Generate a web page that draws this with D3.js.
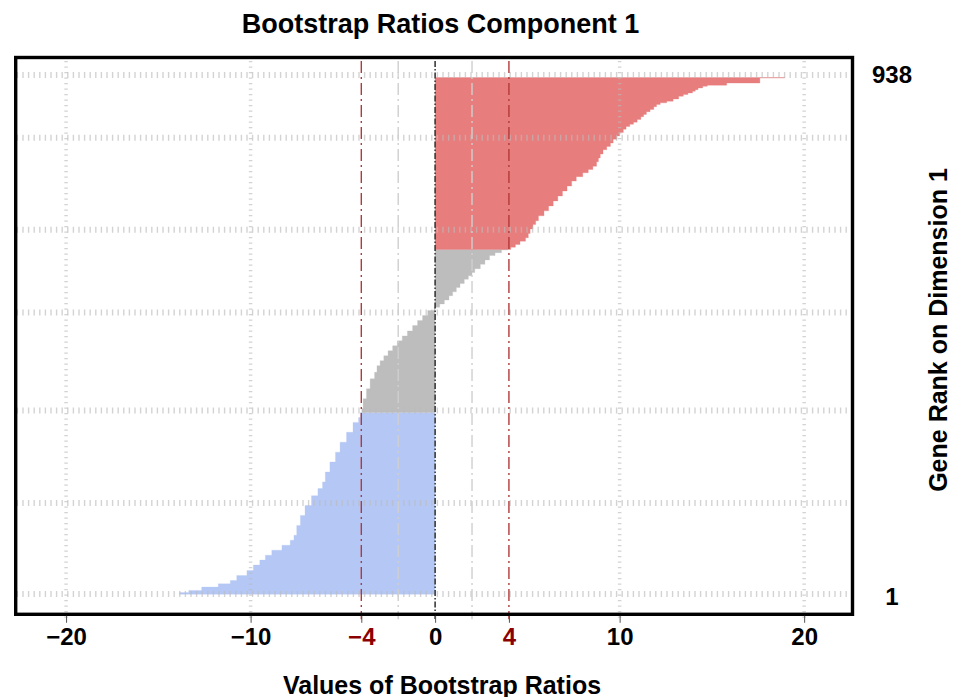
<!DOCTYPE html>
<html>
<head>
<meta charset="utf-8">
<script src="https://cdnjs.cloudflare.com/ajax/libs/d3/7.8.5/d3.min.js"></script>
<style>
body { margin: 0; background: #fff; }
text { font-family: "Liberation Sans", Arial, Helvetica, sans-serif; font-weight: bold; }
</style>
</head>
<body>
<div id="chart"></div>
<script>

// gene rank where each reading starts, and the bootstrap ratio read there
var geneRank = [1, 4, 8, 14, 20, 26, 35, 44, 54, 63, 72, 81, 90, 99, 108, 126, 144, 162, 180, 193,
    205, 223, 241, 259, 277, 295, 313, 322, 331, 338, 356, 374, 392, 404, 416, 425, 434, 443, 452, 461,
    470, 479, 489, 498, 507, 516, 522, 528, 535, 543, 550, 558, 565, 573, 579, 585, 592, 600, 608, 616,
    621, 626, 627, 631, 636, 642, 648, 656, 664, 672, 679, 688, 697, 706, 715, 724, 733, 742, 751, 759,
    766, 772, 778, 786, 793, 800, 808, 814, 820, 827, 833, 839, 845, 850, 854, 858, 863, 868, 872, 877,
    881, 886, 890, 893, 896, 900, 905, 908, 911, 914, 917, 920, 923, 925, 929, 938];
var bootRatio = [-13.85, -13.35, -12.65, -11.75, -11.1, -10.75, -10.2, -9.85, -9.5, -9.2, -8.85, -8.3, -7.85, -7.65, -7.5, -7.3, -7.05, -6.7, -6.35, -6.1,
    -5.95, -5.7, -5.4, -5.15, -4.8, -4.45, -4.15, -4.05, -3.97, -3.9, -3.72, -3.52, -3.28, -3.15, -2.98, -2.78, -2.55, -2.3, -2.05, -1.78,
    -1.5, -1.22, -0.95, -0.68, -0.4, -0.05, 0.25, 0.5, 0.75, 0.95, 1.15, 1.35, 1.58, 1.8, 2.0, 2.15, 2.45, 2.7, 2.95, 3.25,
    3.6, 3.95, 4.1, 4.35, 4.6, 4.9, 5.05, 5.15, 5.3, 5.45, 5.6, 5.9, 6.15, 6.4, 6.65, 6.9, 7.15, 7.4, 7.65, 8.0,
    8.3, 8.55, 8.75, 8.85, 8.95, 9.1, 9.3, 9.5, 9.65, 9.85, 10.0, 10.2, 10.35, 10.55, 10.75, 10.95, 11.15, 11.3, 11.45, 11.65,
    11.85, 12.0, 12.2, 12.55, 12.9, 13.2, 13.45, 13.7, 13.95, 14.1, 14.25, 14.5, 14.75, 15.8, 17.6, 18.95];
var nGenes = 938;

var xTicks = [-20, -10, -4, 0, 4, 10, 20];
var xGrid = [-20, -10, 10, 20];
var rankTicks = [1, 938];
var rankGrid = [1, 166, 334, 512, 662, 829, 943];
var cutoffs = [-4, 4];
var softCutoffs = [-2, 2];

var title = "Bootstrap Ratios Component 1";
var xTitle = "Values of Bootstrap Ratios";
var yTitle = "Gene Rank on Dimension 1";

var W = 961, H = 697;
var box = {left: 15.7, top: 57.5, right: 852.5, bottom: 614.3};

var svg = d3.select("#chart").append("svg")
    .attr("width", W)
    .attr("height", H);

var x = d3.scaleLinear()
    .domain([-22.73, 22.62])
    .range([box.left, box.right]);

var y = d3.scaleLinear()
    .domain([1, nGenes])
    .range([594, 77.8]);

function barColor(v) {
    if (v > 4) return "#e87d7d";
    if (v < -4) return "#b4c7f5";
    return "#bdbdbd";
}

// each reading is a bar covering ranks up to the next reading;
// bars of one colour are joined into one stepped area so no seams show
var groups = [];
geneRank.forEach(function(r, i) {
    var hi = (i < geneRank.length - 1) ? geneRank[i + 1] - 1 : nGenes;
    var c = barColor(bootRatio[i]);
    var g = groups[groups.length - 1];
    if (!g || g.color !== c) { g = {color: c, pts: []}; groups.push(g); }
    g.pts.push({r: r - 0.5, v: bootRatio[i]});
    g.pts.push({r: hi + 0.5, v: bootRatio[i]});
});

var area = d3.area()
    .y(function(d) { return y(d.r); })
    .x0(x(0))
    .x1(function(d) { return x(d.v); });

svg.append("g").selectAll("path")
    .data(groups)
    .enter().append("path")
    .attr("d", function(d) { return area(d.pts); })
    .style("fill", function(d) { return d.color; })
    .style("stroke", function(d) { return d.color; })
    .style("stroke-width", 0.3);

// dotted grid
svg.append("g").selectAll("line")
    .data(rankGrid)
    .enter().append("line")
    .attr("x1", box.left + 1).attr("x2", box.right - 2)
    .attr("y1", function(d) { return y(d); })
    .attr("y2", function(d) { return y(d); })
    .style("stroke", "#bbb")
    .style("stroke-opacity", 0.65)
    .style("stroke-width", 6)
    .style("stroke-dasharray", "1.4,4.2");

svg.append("g").selectAll("line")
    .data(xGrid)
    .enter().append("line")
    .attr("x1", function(d) { return x(d); })
    .attr("x2", function(d) { return x(d); })
    .attr("y1", 61).attr("y2", box.bottom + 4)
    .style("stroke", "#bbb")
    .style("stroke-opacity", 0.65)
    .style("stroke-width", 3.5)
    .style("stroke-dasharray", "1.2,4.3");

// reference lines
svg.append("g").selectAll("line")
    .data(softCutoffs)
    .enter().append("line")
    .attr("x1", function(d) { return x(d); })
    .attr("x2", function(d) { return x(d); })
    .attr("y1", 61).attr("y2", box.bottom + 5)
    .style("stroke", "#cfcfcf")
    .style("stroke-width", 1.4)
    .style("stroke-dasharray", "12,4,2,4");

svg.append("g").selectAll("line")
    .data(cutoffs)
    .enter().append("line")
    .attr("x1", function(d) { return x(d); })
    .attr("x2", function(d) { return x(d); })
    .attr("y1", 61).attr("y2", box.bottom + 5)
    .style("stroke", "#b33a3a")
    .style("stroke-width", 1.4)
    .style("stroke-dasharray", "12,4,2,4");

svg.append("line")
    .attr("x1", x(0)).attr("x2", x(0))
    .attr("y1", 61).attr("y2", box.bottom + 5)
    .style("stroke", "#3a3a3a")
    .style("stroke-width", 1.6)
    .style("stroke-dasharray", "6,2,1.5,2");

// frame
svg.append("rect")
    .attr("x", box.left).attr("y", box.top)
    .attr("width", box.right - box.left)
    .attr("height", box.bottom - box.top)
    .style("fill", "none")
    .style("stroke", "#000")
    .style("stroke-width", 3.4);

// x axis under the frame
var xAxis = d3.axisBottom(x).tickValues(xTicks).tickSize(7).tickPadding(5)
    .tickFormat(d3.format("d"));
var gx = svg.append("g")
    .attr("transform", "translate(0," + (box.bottom + 1.5) + ")")
    .call(xAxis);
gx.select(".domain").remove();
gx.selectAll(".tick line").style("stroke", "#555");
gx.selectAll(".tick text")
    .style("font-size", "24px")
    .style("fill", function(d) { return cutoffs.indexOf(d) >= 0 ? "#8b0000" : "#000"; });

// rank labels on the right
var yAxis = d3.axisRight(y).tickValues(rankTicks).tickSize(0).tickPadding(0);
var gy = svg.append("g")
    .attr("transform", "translate(892,0)")
    .call(yAxis);
gy.select(".domain").remove();
gy.selectAll(".tick text")
    .attr("text-anchor", "middle")
    .attr("dy", function(d) { return d === 1 ? "0.45em" : "0.2em"; })
    .style("font-size", "24px")
    .style("fill", "#000");

svg.append("text")
    .attr("x", 440.5).attr("y", 33)
    .attr("text-anchor", "middle")
    .style("font-size", "27px")
    .text(title);

svg.append("text")
    .attr("x", 442).attr("y", 694)
    .attr("text-anchor", "middle")
    .style("font-size", "25px")
    .text(xTitle);

svg.append("text")
    .attr("transform", "translate(947,330) rotate(-90)")
    .attr("text-anchor", "middle")
    .style("font-size", "25px")
    .text(yTitle);

</script>
</body>
</html>
